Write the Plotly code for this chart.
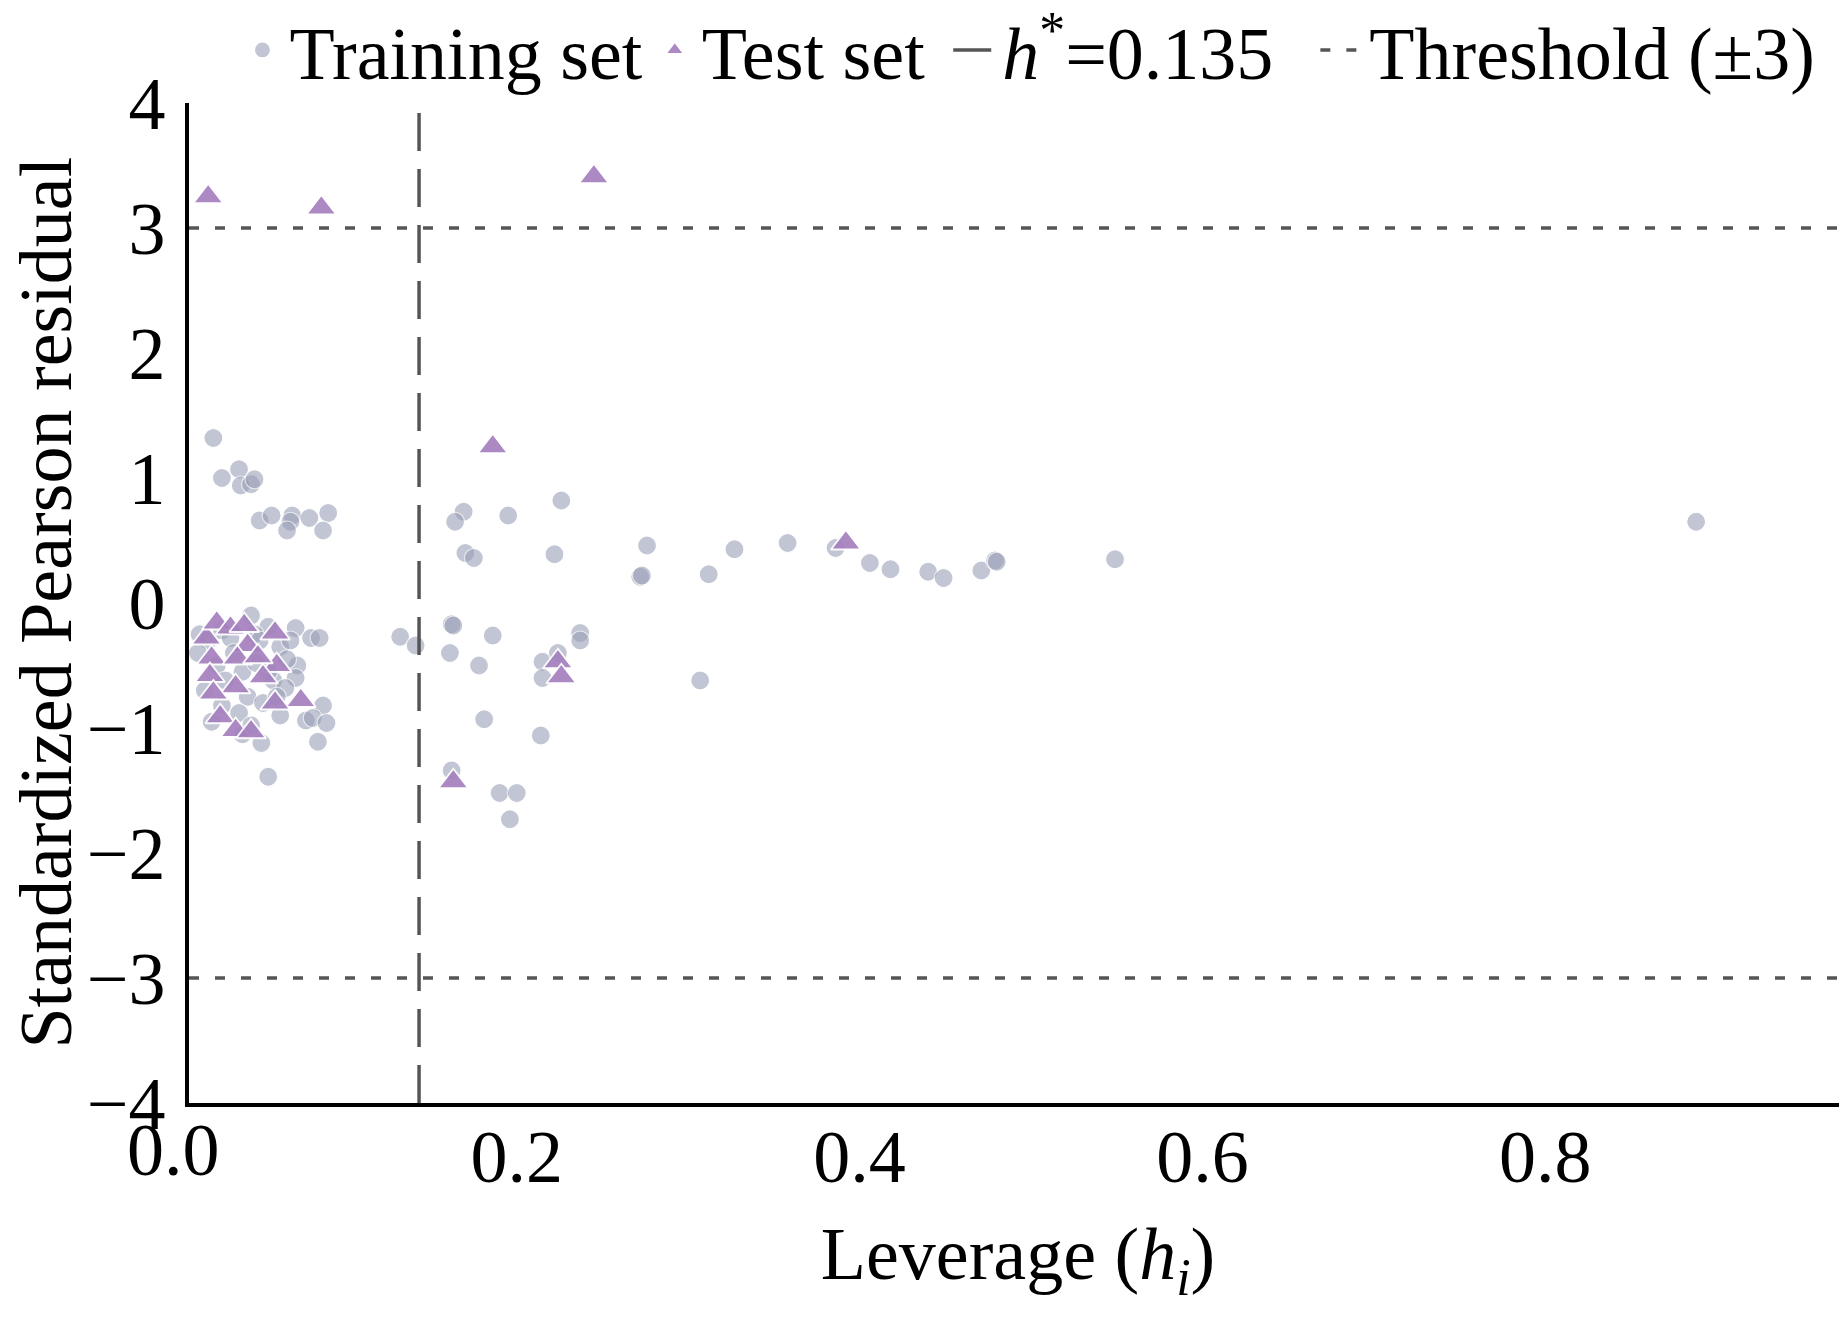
import plotly.graph_objects as go

# ---------------- data ----------------
train_x = [0.023, 0.028, 0.038, 0.039, 0.045, 0.047, 0.050, 0.057, 0.069, 0.068, 0.066, 0.079, 0.090, 0.087,
           0.169, 0.164, 0.195, 0.226, 0.170, 0.175, 0.222, 0.276, 0.272, 0.273,
           0.312, 0.327, 0.358, 0.386, 0.406, 0.418, 0.440, 0.449, 0.471, 0.479, 0.480, 0.549, 0.888,
           0.132, 0.141, 0.162, 0.163, 0.161, 0.186, 0.178, 0.181, 0.214, 0.215, 0.215, 0.224, 0.237, 0.237,
           0.190, 0.200, 0.196, 0.162, 0.307,
           0.045, 0.055, 0.071, 0.080, 0.085, 0.072, 0.071, 0.087, 0.077, 0.081, 0.089, 0.084, 0.051, 0.055,
           0.015, 0.020, 0.028, 0.033, 0.047, 0.050, 0.062, 0.066, 0.014, 0.025, 0.040, 0.048, 0.058, 0.065,
           0.030, 0.018, 0.043, 0.052, 0.028, 0.038, 0.062, 0.022, 0.045, 0.040, 0.060, 0.035, 0.055, 0.068]
train_y = [1.32, 1.00, 1.07, 0.94, 0.95, 0.99, 0.66, 0.70, 0.70, 0.65, 0.58, 0.68, 0.72, 0.58,
           0.73, 0.65, 0.70, 0.82, 0.40, 0.36, 0.39, 0.46, 0.21, 0.22,
           0.23, 0.43, 0.48, 0.44, 0.32, 0.27, 0.25, 0.20, 0.26, 0.34, 0.33, 0.35, 0.65,
           -0.27, -0.34, -0.17, -0.18, -0.40, -0.26, -0.50, -0.93, -1.06, -0.47, -0.60, -0.40, -0.24, -0.30,
           -1.52, -1.52, -1.73, -1.34, -0.62,
           -0.10, -0.19, -0.20, -0.28, -0.28, -0.50, -0.60, -0.82, -0.94, -0.92, -0.96, -1.11, -1.12, -1.39,
           -0.25, -0.30, -0.22, -0.28, -0.25, -0.30, -0.35, -0.45, -0.40, -0.50, -0.55, -0.48, -0.62, -0.68,
           -0.62, -0.70, -0.75, -0.80, -0.82, -0.88, -0.90, -0.95, -0.98, -1.05, -0.75, -0.40, -0.55, -0.30]

test_x = [0.020, 0.086, 0.245, 0.186, 0.392, 0.224, 0.226, 0.163,
          0.019, 0.025, 0.033, 0.041, 0.059, 0.043, 0.022, 0.037, 0.060, 0.052, 0.021, 0.036,
          0.023, 0.074, 0.059, 0.027, 0.036, 0.045, 0.049]
test_y = [3.25, 3.16, 3.41, 1.25, 0.48, -0.47, -0.59, -1.43,
          -0.28, -0.16, -0.20, -0.18, -0.24, -0.34, -0.44, -0.44, -0.50, -0.59, -0.58, -0.67,
          -0.72, -0.78, -0.80, -0.91, -1.02, -1.03, -0.43]

h_star_label = "0.135"
h_star_x = 0.143
threshold = 3

x_ticks = [0.0, 0.2, 0.4, 0.6, 0.8]
x_tick_text = ["0.0", "0.2", "0.4", "0.6", "0.8"]
y_ticks = [-4, -3, -2, -1, 0, 1, 2, 3, 4]
x_range = [0.0088, 0.976]
y_range = [-4, 4]

# ---------------- figure ----------------
FONT = "Liberation Serif, Times New Roman, serif"
FS = 74
NBSP = "\u00a0"

fig = go.Figure()
fig.add_trace(go.Scatter(
    x=train_x, y=train_y, mode="markers", name="Training set",
    marker=dict(symbol="circle", size=19, color="rgb(155,160,183)", opacity=0.6,
                line=dict(color="white", width=1.2)),
))
fig.add_trace(go.Scatter(
    x=test_x, y=test_y, mode="markers", name="Test set" + NBSP,
    marker=dict(symbol="triangle-up", size=26, color="rgb(165,128,190)", opacity=0.92,
                line=dict(color="white", width=1.8)),
))
fig.add_trace(go.Scatter(
    x=[h_star_x, h_star_x], y=y_range, mode="lines",
    name="<i>h</i><sup>*</sup>=" + h_star_label + NBSP * 2,
    line=dict(color="#555555", width=3.5, dash="38px,18px"),
))
fig.add_trace(go.Scatter(
    x=[x_range[0], x_range[1], None, x_range[0], x_range[1]],
    y=[threshold, threshold, None, -threshold, -threshold], mode="lines",
    name="Threshold (±3)",
    line=dict(color="#555555", width=3.5, dash="10px,16px"),
))

shown_ticks = [(v, t) for v, t in zip(x_ticks, x_tick_text) if x_range[0] <= v <= x_range[1]]
hidden_ticks = [(v, t) for v, t in zip(x_ticks, x_tick_text) if not (x_range[0] <= v <= x_range[1])]

fig.update_layout(
    width=1847, height=1322,
    margin=dict(l=181, r=8, t=95, b=227, autoexpand=False),
    paper_bgcolor="white", plot_bgcolor="white",
    font=dict(family=FONT, size=FS, color="black"),
    showlegend=True,
    legend=dict(orientation="h", x=0.028, y=0.968, xref="paper", yref="container",
                xanchor="left", yanchor="middle",
                font=dict(family=FONT, size=FS), bgcolor="rgba(0,0,0,0)",
                itemwidth=44),
    xaxis=dict(range=x_range, tickvals=[v for v, _ in shown_ticks], ticktext=[t for _, t in shown_ticks],
               showline=True, linecolor="black", linewidth=3.5, showgrid=False, zeroline=False,
               ticks="", ticklabelstandoff=-14, tickfont=dict(family=FONT, size=FS),
               title=dict(text="Leverage (<i>h</i><sub><i>i</i></sub>)", font=dict(family=FONT, size=FS),
                          standoff=32)),
    yaxis=dict(range=y_range, tickvals=y_ticks, showline=True, linecolor="black", linewidth=3.5,
               showgrid=False, zeroline=False, ticks="", ticklabelstandoff=5,
               tickfont=dict(family=FONT, size=FS)),
)

# y-axis title, placed in the left margin
fig.add_annotation(x=-0.0865, y=0.5, xref="paper", yref="paper", text="Standardized Pearson residual",
                   textangle=-90, showarrow=False, xanchor="center", yanchor="middle",
                   font=dict(family=FONT, size=FS, color="black"))

# tick label(s) lying just outside the axis range (e.g. "0.0"), placed through the axis scale
for v, t in hidden_ticks:
    frac = (v - x_range[0]) / (x_range[1] - x_range[0])
    fig.add_annotation(x=frac, y=0, xref="paper", yref="paper", text=t, showarrow=False,
                       xanchor="center", yanchor="top", yshift=-4,
                       font=dict(family=FONT, size=FS, color="black"))

fig.write_html("out.html")
